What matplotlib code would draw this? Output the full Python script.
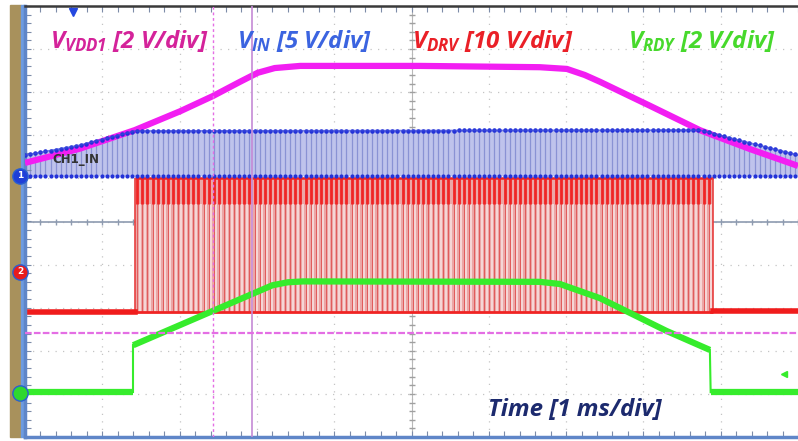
import numpy as np
import matplotlib.pyplot as plt
from matplotlib.patches import Rectangle

# trace breakpoints (x in ms, y in divisions)
vdd1_t = [0, 0.71, 1.42, 2.01, 2.43, 2.78, 3.01, 3.23, 3.56, 5.11, 6.66, 7.01, 7.24, 7.44, 8.09, 8.73, 9.38, 10.0]
vdd1_v = [1.36, 1.69, 2.12, 2.56, 2.91, 3.24, 3.45, 3.56, 3.61, 3.61, 3.58, 3.54, 3.40, 3.24, 2.68, 2.12, 1.68, 1.29]

vin_t = [0, 0.71, 1.42, 8.73, 9.38, 10.0]
vin_top = [1.54, 1.77, 2.10, 2.12, 1.82, 1.54]
vin_low = 1.06

drv_on, drv_off = 1.42, 8.90
drv_low, drv_high, drv_ring = -2.10, 1.01, 0.40

rdy_t = [0, 1.40, 1.40, 3.20, 3.40, 3.60, 6.66, 6.92, 7.44, 8.30, 8.86, 8.87, 10.0]
rdy_v = [-3.96, -3.96, -2.87, -1.48, -1.41, -1.39, -1.40, -1.45, -1.78, -2.54, -2.98, -3.96, -3.96]

sw_period = 0.066  # ms
cursor_x = [2.43, 2.94]
cursor_y = -2.59
ch_levels = [1.06, -1.17, -3.98]
ch_names = ['1', '2', '']
ch_colors = ['#1f3fd8', '#e81c1c', '#2fd82f']

W, H = 798, 441
plt.rcParams['mathtext.fontset'] = 'custom'
plt.rcParams['mathtext.it'] = 'Open Sans:italic:bold'
plt.rcParams['mathtext.rm'] = 'Open Sans:italic:bold'
fig = plt.figure(figsize=(W / 100, H / 100), dpi=100)
ax = fig.add_axes([25 / W, 4 / H, 773 / W, 431 / H])
ax.set_zorder(2)
ax.set_xlim(0, 10)
ax.set_ylim(-5, 5)

# bezel strips on the left
fig.patches.append(Rectangle((10 / W, 4 / H), 11 / W, 432 / H, transform=fig.transFigure,
                             color='#a8915c', zorder=0))
fig.patches.append(Rectangle((21 / W, 4 / H), 4 / W, 432 / H, transform=fig.transFigure,
                             color='#6d9be0', zorder=0))

# graticule
for gx in range(1, 10):
    ax.axvline(gx, color='#c4c4c4', lw=0.9, ls=(0, (1, 5)), zorder=0)
for gy in range(-4, 5):
    ax.axhline(gy, color='#c4c4c4', lw=0.9, ls=(0, (1, 5)), zorder=0)
ax.axhline(0, color='#8e9bb0', lw=1.2, zorder=0)
ax.axvline(5, color='#b8b8b8', lw=0.8, zorder=0)
minor_x = np.arange(0, 10.01, 0.2)
minor_y = np.arange(-5, 5.01, 0.2)
ax.plot(minor_x, np.zeros_like(minor_x), '|', color='#8e9bb0', ms=5, zorder=0)
ax.plot(np.full_like(minor_y, 5), minor_y, '_', color='#a0a0a0', ms=5, zorder=0)
ax.set_xticks(minor_x)
ax.set_yticks(minor_y)
ax.tick_params(direction='in', length=4, color='#7d8ca8', top=True, bottom=True,
               left=True, right=False, labelbottom=False, labelleft=False)
for s in ['left', 'bottom']:
    ax.spines[s].set_color('#5f86c8')
    ax.spines[s].set_linewidth(2.5)
ax.spines['top'].set_color('#3a3a3a')
ax.spines['top'].set_linewidth(1.8)
ax.spines['right'].set_visible(False)

# V_IN switching trace
t_sw = np.arange(0, 10.0, sw_period)
top_sw = np.interp(t_sw, vin_t, vin_top)
ax.fill_between(vin_t, vin_low, vin_top, color='#bfc3ec', lw=0, zorder=1)
ax.vlines(t_sw, vin_low, top_sw, color='#8a92d4', lw=0.9, zorder=1)
ax.plot(t_sw, top_sw, ls='none', marker='.', ms=4.5, color='#2231d8', zorder=4)
ax.plot(t_sw, np.full_like(t_sw, vin_low), ls='none', marker='.', ms=4, color='#2231d8', zorder=4)
ax.plot(vin_t, vin_top, color='#3a48dc', lw=1.2, alpha=0.7, zorder=4)

# V_DRV gate drive
t_r = t_sw[(t_sw >= drv_on) & (t_sw <= drv_off)]
ax.fill_between([drv_on, drv_off], drv_low, drv_high, color='#eba6a6', lw=0, zorder=1.5)
ax.vlines(t_r + sw_period / 2, drv_low, drv_ring, color='#f7dcdc', lw=1.3, zorder=1.6)
ax.vlines(t_r, drv_low, drv_high, color='#e05a5a', lw=0.7, zorder=1.7)
ax.vlines(t_r, drv_ring, drv_high, color='#f02424', lw=2.0, zorder=1.8)
ax.hlines(drv_high, drv_on, drv_off, color='#f02424', lw=1.8, zorder=1.8)
ax.hlines(drv_low, drv_on, drv_off, color='#f02424', lw=2.0, zorder=1.8)
ax.plot([0, drv_on], [drv_low, drv_low], color='#f01c1c', lw=4, zorder=2)
ax.plot([drv_off, 10], [drv_low + 0.03, drv_low + 0.03], color='#f01c1c', lw=4, zorder=2)
ax.vlines([drv_on, drv_off], drv_low, drv_high, color='#e84040', lw=1.2, zorder=1.8)

# V_VDD1
ax.plot(vdd1_t, vdd1_v, color='#f21ef2', lw=4.5, solid_capstyle='butt', zorder=3)

# V_RDY
ax.plot(rdy_t[:2], rdy_v[:2], color='#36ec2c', lw=4.5, solid_capstyle='butt', zorder=3)
ax.plot(rdy_t[1:3], rdy_v[1:3], color='#36ec2c', lw=1.5, zorder=3)
ax.plot(rdy_t[2:-2], rdy_v[2:-2], color='#36ec2c', lw=4.5, solid_capstyle='butt', zorder=3)
ax.plot(rdy_t[-3:-1], rdy_v[-3:-1], color='#36ec2c', lw=1.5, zorder=3)
ax.plot(rdy_t[-2:], rdy_v[-2:], color='#36ec2c', lw=4.5, solid_capstyle='butt', zorder=3)
ax.plot(9.82, -3.54, marker='<', ms=5, color='#36ec2c', zorder=3)

# cursors
ax.axvline(cursor_x[0], color='#e46ee4', lw=1.0, ls=(0, (2, 2)), zorder=5)
ax.axvline(cursor_x[1], color='#c58ad6', lw=1.2, zorder=5)
ax.axhline(cursor_y, color='#e46ee4', lw=1.6, ls=(0, (3, 1)), zorder=5)

# channel ground markers and trigger mark
for lvl, name, c in zip(ch_levels, ch_names, ch_colors):
    ax.plot(-0.065, lvl, 'o', ms=11, color=c, mec='#2a5fd0', mew=1, clip_on=False, zorder=6)
    ax.text(-0.065, lvl, name, color='white', fontsize=6.5, fontweight='bold',
            ha='center', va='center', clip_on=False, zorder=7)
ax.plot(0.62, 4.85, marker='v', ms=6, color='#2448e0', clip_on=False, zorder=6)

ax.text(0.35, 1.45, 'CH1_IN', color='#333333', fontsize=8.5, fontweight='bold',
        va='center', zorder=6)

# labels
lab = dict(fontsize=17.3, family='Open Sans', style='italic', fontweight='bold')
fig.text(50 / W, 1 - 48 / H, r'$V_{VDD1}$ [2 V/div]', color='#d4239a', **lab)
fig.text(237 / W, 1 - 48 / H, r'$V_{IN}$ [5 V/div]', color='#3b64e0', **lab)
fig.text(412 / W, 1 - 48 / H, r'$V_{DRV}$ [10 V/div]', color='#ea2027', **lab)
fig.text(628 / W, 1 - 48 / H, r'$V_{RDY}$ [2 V/div]', color='#47d92c', **lab)
fig.text(488 / W, 1 - 416 / H, 'Time [1 ms/div]', color='#1c2a6e', **lab)

fig.savefig('out.png', dpi=100)
